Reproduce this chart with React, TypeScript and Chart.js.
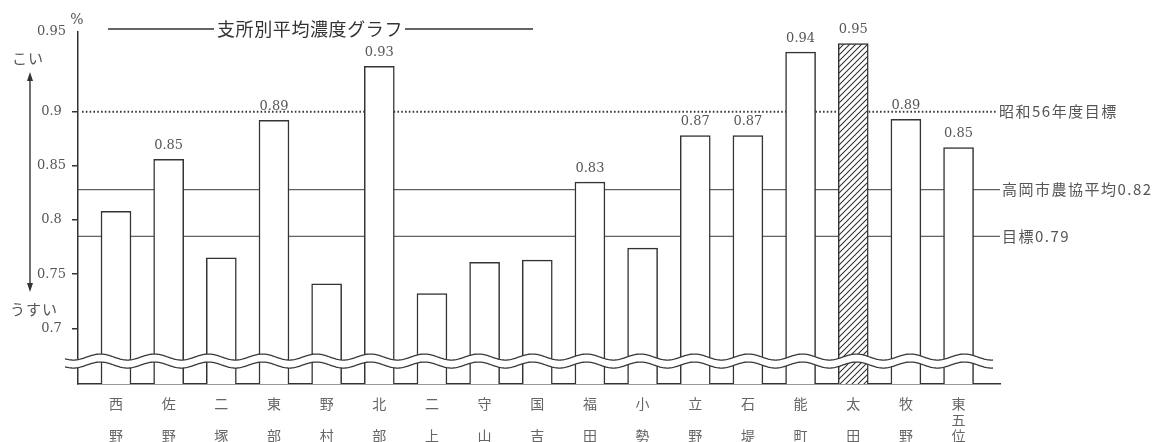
import { useEffect, useRef } from 'react';
import { Chart, registerables } from 'chart.js';

Chart.register(...registerables);

// ---- data ----
const categories = ['西野', '佐野', '二塚', '東部', '野村', '北部', '二上', '守山', '国吉', '福田', '小勢', '立野', '石堤', '能町', '太田', '牧野', '東五位'];
const barValues = [0.808, 0.856, 0.765, 0.892, 0.741, 0.942, 0.732, 0.761, 0.763, 0.835, 0.774, 0.878, 0.878, 0.955, 0.963, 0.893, 0.867];
const barLabels = ['', '0.85', '', '0.89', '', '0.93', '', '', '', '0.83', '', '0.87', '0.87', '0.94', '0.95', '0.89', '0.85'];
const hatchedIndex = 14;

const Y_MIN = 0.6486;
const Y_MAX = 0.974;
const yTickValues = [0.7, 0.75, 0.8, 0.85, 0.9, Y_MAX];
const yTickLabels = ['0.7', '0.75', '0.8', '0.85', '0.9', '0.95'];

const refValues = [0.9, 0.828, 0.785];
const refLabels = ['昭和56年度目標', '高岡市農協平均0.82', '目標0.79'];

const BREAK_VALUE = 0.6698;
const X_MIN = -0.7216;
const X_MAX = 16.787;

const titleText = '支所別平均濃度グラフ';

const splitLabel = (s: string) => (s.length === 3 ? s.split('') : [s[0], '', s[1]]);

const CJK = '"Noto Sans CJK JP"';
const SERIF = '"DejaVu Serif"';

function makeHatch(): CanvasPattern | string {
  const c = document.createElement('canvas');
  const n = 6;
  c.width = n;
  c.height = n;
  const g = c.getContext('2d');
  if (!g) return '#fff';
  g.fillStyle = '#fff';
  g.fillRect(0, 0, n, n);
  g.strokeStyle = '#333';
  g.lineWidth = 1.1;
  g.beginPath();
  g.moveTo(0, n);
  g.lineTo(n, 0);
  g.moveTo(-1, 1);
  g.lineTo(1, -1);
  g.moveTo(n - 1, n + 1);
  g.lineTo(n + 1, n - 1);
  g.stroke();
  const p = g.createPattern(c, 'repeat');
  return p || '#fff';
}

const decorPlugin = {
  id: 'decor',
  beforeDatasetsDraw(chart: any) {
    const { ctx, chartArea, scales } = chart;
    const y = scales.y;
    ctx.save();
    refValues.forEach((v, i) => {
      const py = y.getPixelForValue(v);
      ctx.beginPath();
      ctx.strokeStyle = '#3a3a3a';
      if (i === 0) {
        ctx.setLineDash([1.6, 2.2]);
        ctx.lineWidth = 1.8;
        ctx.moveTo(chartArea.left + 4, py);
        ctx.lineTo(chartArea.right - 3, py);
      } else {
        ctx.setLineDash([]);
        ctx.lineWidth = 1;
        ctx.moveTo(chartArea.left, py);
        ctx.lineTo(chartArea.right, py);
      }
      ctx.stroke();
      ctx.setLineDash([]);
      ctx.font = '15px ' + CJK;
      ctx.fillStyle = '#555';
      ctx.textAlign = 'left';
      ctx.textBaseline = 'middle';
      (ctx as any).letterSpacing = '1.5px';
      ctx.fillText(refLabels[i], chartArea.right + (i === 0 ? -1 : 2), py);
      (ctx as any).letterSpacing = '0px';
    });
    ctx.restore();
  },
  afterDatasetsDraw(chart: any) {
    const { ctx, scales } = chart;
    const y = scales.y;
    ctx.save();
    // value labels
    const meta = chart.getDatasetMeta(0);
    ctx.font = '13px ' + SERIF;
    ctx.fillStyle = '#555';
    ctx.textAlign = 'center';
    ctx.textBaseline = 'middle';
    meta.data.forEach((bar: any, i: number) => {
      if (barLabels[i]) ctx.fillText(barLabels[i], bar.x, bar.y - 14);
    });
    // axis break wave
    const yc = y.getPixelForValue(BREAK_VALUE);
    const x0 = 65;
    const x1 = 993;
    const P = 54;
    const A = 3;
    const gap = 8;
    const f = (x: number) => yc + A * Math.sin(((x - x0) / P) * 2 * Math.PI + 0.6);
    ctx.beginPath();
    for (let x = x0; x <= x1; x += 1) ctx.lineTo(x, f(x) - gap / 2);
    for (let x = x1; x >= x0; x -= 1) ctx.lineTo(x, f(x) + gap / 2);
    ctx.closePath();
    ctx.fillStyle = '#fff';
    ctx.fill();
    ctx.strokeStyle = '#3a3a3a';
    ctx.lineWidth = 1.3;
    [-gap / 2, gap / 2].forEach((off) => {
      ctx.beginPath();
      for (let x = x0; x <= x1; x += 1) {
        if (x === x0) ctx.moveTo(x, f(x) + off);
        else ctx.lineTo(x, f(x) + off);
      }
      ctx.stroke();
    });
    ctx.restore();
  },
  afterDraw(chart: any) {
    const { ctx } = chart;
    ctx.save();
    // title with lines
    ctx.strokeStyle = '#333';
    ctx.lineWidth = 1.5;
    ctx.beginPath();
    ctx.moveTo(108, 29);
    ctx.lineTo(214, 29);
    ctx.moveTo(405, 29);
    ctx.lineTo(533, 29);
    ctx.stroke();
    ctx.font = '18px ' + CJK;
    ctx.fillStyle = '#333';
    ctx.textAlign = 'left';
    ctx.textBaseline = 'middle';
    (ctx as any).letterSpacing = '0.6px';
    ctx.fillText(titleText, 217, 29);
    (ctx as any).letterSpacing = '0px';
    // percent sign
    ctx.font = '14px ' + SERIF;
    ctx.fillStyle = '#555';
    ctx.textAlign = 'center';
    ctx.fillText('%', 77, 20);
    // こい / うすい with arrow
    ctx.font = '15px ' + CJK;
    (ctx as any).letterSpacing = '1px';
    ctx.fillText('こい', 28, 58);
    ctx.fillText('うすい', 34, 309);
    (ctx as any).letterSpacing = '0px';
    ctx.strokeStyle = '#333';
    ctx.fillStyle = '#333';
    ctx.lineWidth = 1.4;
    ctx.beginPath();
    ctx.moveTo(30, 78);
    ctx.lineTo(30, 286);
    ctx.stroke();
    ctx.beginPath();
    ctx.moveTo(30, 72);
    ctx.lineTo(27, 81);
    ctx.lineTo(33, 81);
    ctx.closePath();
    ctx.fill();
    ctx.beginPath();
    ctx.moveTo(30, 292);
    ctx.lineTo(27, 283);
    ctx.lineTo(33, 283);
    ctx.closePath();
    ctx.fill();
    ctx.restore();
  },
};

export default function App() {
  const ref = useRef<HTMLCanvasElement | null>(null);
  useEffect(() => {
    if (!ref.current) return;
    const hatch = makeHatch();
    const chart = new Chart(ref.current, {
      type: 'bar',
      data: {
        datasets: [
          {
            data: barValues.map((v, i) => ({ x: i, y: v })) as any,
            backgroundColor: barValues.map((_, i) => (i === hatchedIndex ? hatch : '#ffffff')) as any,
            borderColor: '#333',
            borderWidth: 1.5,
            barThickness: 30,
            borderSkipped: 'start',
          },
        ],
      },
      options: {
        animation: false,
        responsive: false,
        layout: { padding: { top: 31.6, right: 154, left: 0, bottom: 0 } },
        plugins: { legend: { display: false }, tooltip: { enabled: false } },
        scales: {
          x: {
            type: 'linear',
            offset: false,
            min: X_MIN,
            max: X_MAX,
            z: 1,
            grid: { display: false, drawTicks: false, offset: false },
            border: { display: true, color: '#333', width: 1.5 },
            afterBuildTicks: (s: any) => {
              s.ticks = categories.map((_, i) => ({ value: i }));
            },
            afterFit: (s: any) => {
              s.height = 58;
            },
            ticks: {
              autoSkip: false,
              maxRotation: 0,
              minRotation: 0,
              padding: 12,
              color: '#666',
              font: { family: CJK, size: 14, lineHeight: '16px' },
              callback: (v: any) => splitLabel(categories[Math.round(Number(v))] || ''),
            },
          },
          y: {
            type: 'linear',
            min: Y_MIN,
            max: Y_MAX,
            afterBuildTicks: (s: any) => {
              s.ticks = yTickValues.map((v) => ({ value: v }));
            },
            afterFit: (s: any) => {
              s.width = 78;
            },
            grid: {
              drawOnChartArea: false,
              drawTicks: true,
              tickLength: 6,
              lineWidth: 1.5,
              color: (c: any) => (c.index === yTickValues.length - 1 ? 'rgba(0,0,0,0)' : '#333'),
            },
            border: { display: true, color: '#333', width: 1.5 },
            ticks: {
              autoSkip: false,
              padding: 6,
              crossAlign: 'center',
              color: '#555',
              font: { family: SERIF, size: 13 },
              callback: (_v: any, i: number) => yTickLabels[i],
            },
          },
        },
      } as any,
      plugins: [decorPlugin],
    });
    return () => chart.destroy();
  }, []);
  return (
    <div style={{ position: 'fixed', left: 0, top: 0, width: 1154, height: 442, background: '#fff' }}>
      <canvas ref={ref} width={1154} height={442} style={{ display: 'block' }} />
    </div>
  );
}
